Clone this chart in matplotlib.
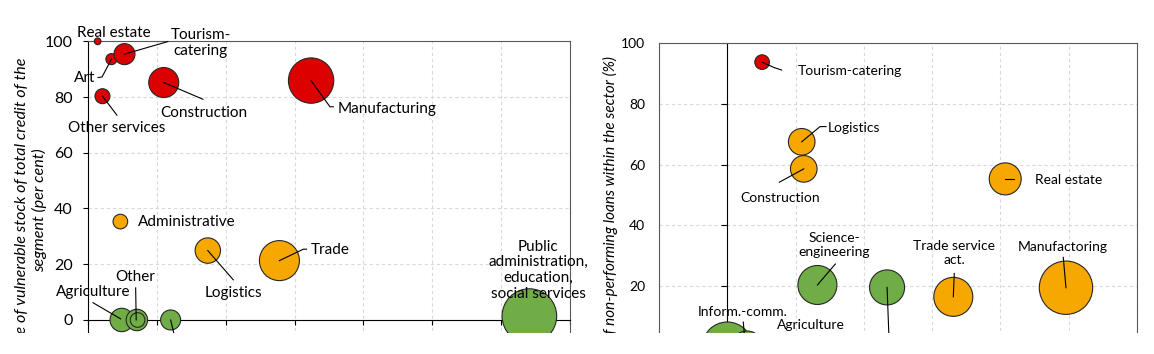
import numpy as np
import matplotlib.pyplot as plt
from matplotlib.markers import TICKLEFT
from matplotlib.patches import Rectangle

plt.rcParams['font.family'] = ['Lato', 'DejaVu Sans']

# left panel: vulnerable stock share vs. sector (bubble = credit volume)
left_names = ['Real estate', 'Art', 'Tourism-\ncatering', 'Other services', 'Construction',
              'Manufacturing', 'Administrative', 'Logistics', 'Trade', 'Agriculture',
              'Other', 'Other', '', 'Public\nadministration,\neducation,\nsocial services']
left_x = [0.7, 1.7, 2.65, 1.05, 5.5, 16.2, 2.35, 8.7, 13.9, 2.45, 3.55, 3.6, 6.0, 32.05]
left_y = [100.0, 93.6, 95.4, 80.3, 85.2, 85.9, 35.3, 24.9, 21.3, 0.0, 0.0, 0.0, 0.0, 1.4]
left_size = [1.5, 4.1, 14.8, 7.5, 30.2, 69.0, 7.2, 21.6, 53.7, 18.4, 15.4, 7.2, 13.4, 100.0]
left_group = ['high', 'high', 'high', 'high', 'high', 'high', 'mid', 'mid', 'mid',
              'low', 'low', 'low', 'low', 'low']

# right panel: NPL share within sector
right_names = ['Tourism-catering', 'Logistics', 'Construction', 'Real estate',
               'Science-\nengineering', '', 'Trade service\nact.', 'Manufactoring',
               'Inform.-comm.', 'Agriculture']
right_x = [2.55, 5.45, 5.6, 20.35, 6.6, 11.7, 16.55, 24.8, 0.0, 1.45]
right_y = [93.7, 67.5, 58.6, 55.3, 20.4, 19.6, 16.5, 19.5, 0.0, 0.0]
right_size = [7.5, 24.8, 24.8, 35.9, 53.3, 43.0, 53.3, 100.0, 87.7, 35.9]
right_group = ['high', 'mid', 'mid', 'mid', 'low', 'low', 'mid', 'mid', 'low', 'low']

colors = {'high': '#DD0000', 'mid': '#F6A800', 'low': '#70AD47'}

# label positions and leader lines (data coords)
left_text_pos = [(1.9, 103.0), (-0.25, 86.7), (8.2, 99.4), (2.1, 68.8), (8.4, 74.4),
                 (21.75, 75.6), (7.15, 35.1), (10.55, 9.6), (17.6, 25.1), (0.36, 9.9),
                 (3.43, 15.3), None, None, (32.7, 17.9)]
left_leaders = [None,
                [(1.7, 93.6), (1.02, 87.2), (0.73, 87.0)],
                [(2.65, 95.4), (5.8, 99.9)],
                [(1.05, 80.3), (2.1, 73.5)],
                [(5.5, 85.2), (8.35, 79.2)],
                [(16.2, 85.9), (17.57, 76.5), (17.81, 76.5)],
                None,
                [(8.7, 24.9), (10.55, 14.4)],
                [(13.9, 21.3), (15.63, 25.4), (15.87, 25.4)],
                [(2.37, 0.4), (0.36, 6.2)],
                [(3.5, 0.0), (3.46, 11.5)],
                None,
                [(6.0, 0.0), (6.44, -9.0)],
                None]

right_text_pos = [(9.0, 90.9), (9.26, 72.1), (3.84, 48.9), (24.96, 54.9), (7.83, 33.6),
                  None, (16.62, 31.0), (24.55, 32.8), (1.16, 11.6), (6.13, 7.2)]
right_leaders = [[(2.55, 93.7), (3.44, 91.9), (3.98, 91.1)],
                 [(5.45, 67.5), (6.79, 72.5), (7.23, 72.5)],
                 [(5.6, 58.6), (3.81, 54.2)],
                 [(20.35, 55.3), (21.0, 55.3)],
                 [(6.6, 20.4), (7.91, 27.3)],
                 [(11.7, 19.6), (11.86, 0.7)],
                 [(16.55, 16.5), (16.62, 24.2)],
                 [(24.8, 19.5), (24.6, 29.5)],
                 [(1.17, 8.2), (1.32, 0.7)],
                 None]

frame = '#595959'
grid_kw = dict(color='#d9d9d9', ls=(0, (3, 2.5)), lw=0.8)

fig = plt.figure(figsize=(11.54, 3.54), dpi=100)

# ---- left panel
ax1 = fig.add_axes([88 / 1154, 1 - 375.7 / 354, 482 / 1154, 334.4 / 354])
ax1.set_xlim(0, 35)
ax1.set_ylim(-20, 100)
ax1.set_xticks(np.arange(0, 36, 5))
ax1.set_yticks(np.arange(0, 101, 20))
ax1.grid(True, **grid_kw)
ax1.set_axisbelow(True)
for s in ['top', 'right']:
    ax1.spines[s].set_color(frame)
ax1.spines['left'].set_color('black')
ax1.spines['bottom'].set_position(('data', 0))
ax1.spines['bottom'].set_color('black')
ax1.tick_params(axis='y', direction='out', length=3.6, width=0.8, pad=7.5, labelsize=11.5)
ax1.tick_params(axis='x', direction='out', length=3.5, width=0.8, labelbottom=False)

ax1.scatter(left_x, left_y, s=np.array(left_size) * 15.45,
            c=[colors[g] for g in left_group], edgecolors='#262626', linewidths=0.8,
            zorder=3, clip_on=False)
for name, pos, lead in zip(left_names, left_text_pos, left_leaders):
    if lead is not None:
        xs, ys = zip(*lead)
        ax1.plot(xs, ys, color='black', lw=0.8, zorder=4, clip_on=False)
    if pos is not None and name:
        ax1.text(pos[0], pos[1], name, ha='center', va='center', fontsize=11,
                 linespacing=1.15, zorder=5)

fig.text(31 / 1154, 1 - 57 / 354,
         'Share of vulnerable stock of total credit of the\nsegment (per cent)',
         rotation=90, ha='center', va='top', multialignment='center',
         fontsize=11.6, fontstyle='italic', linespacing=1.2)

# ---- right panel
ax2 = fig.add_axes([659 / 1154, 1 - 407.8 / 354, 478 / 1154, 364.8 / 354])
ax2.set_xlim(-5, 30)
ax2.set_ylim(-20, 100)
ax2.set_xticks(np.arange(-5, 31, 5))
ax2.set_yticks(np.arange(0, 101, 20))
ax2.grid(True, **grid_kw)
ax2.set_axisbelow(True)
for s in ax2.spines.values():
    s.set_color(frame)
ax2.tick_params(axis='y', length=0, pad=10, labelsize=10)
ax2.tick_params(axis='x', length=0, labelbottom=False)
ax2.axvline(0, color='black', lw=0.8, zorder=2)
yt = np.arange(0, 101, 20)
ax2.plot(np.zeros(len(yt)), yt, ls='none', marker=TICKLEFT, ms=4, mew=0.8,
         color='black', zorder=2)

ax2.scatter(right_x, right_y, s=np.array(right_size) * 14.78,
            c=[colors[g] for g in right_group], edgecolors='#262626', linewidths=0.8,
            zorder=3, clip_on=False)
for name, pos, lead in zip(right_names, right_text_pos, right_leaders):
    if lead is not None:
        xs, ys = zip(*lead)
        ax2.plot(xs, ys, color='black', lw=0.8, zorder=4, clip_on=False)
    if pos is not None and name:
        ax2.text(pos[0], pos[1], name, ha='center', va='center', fontsize=10,
                 linespacing=1.15, zorder=5)

fig.text(610 / 1154, 1 - 56 / 354,
         'Share of non-performing loans within the sector (%)',
         rotation=90, ha='center', va='top', fontsize=11, fontstyle='italic')

# the source image is cut off near the bottom
fig.add_artist(Rectangle((0, 0), 1, 21 / 354, transform=fig.transFigure,
                         facecolor='white', edgecolor='none', zorder=10))

fig.savefig('out.png', dpi=100)
